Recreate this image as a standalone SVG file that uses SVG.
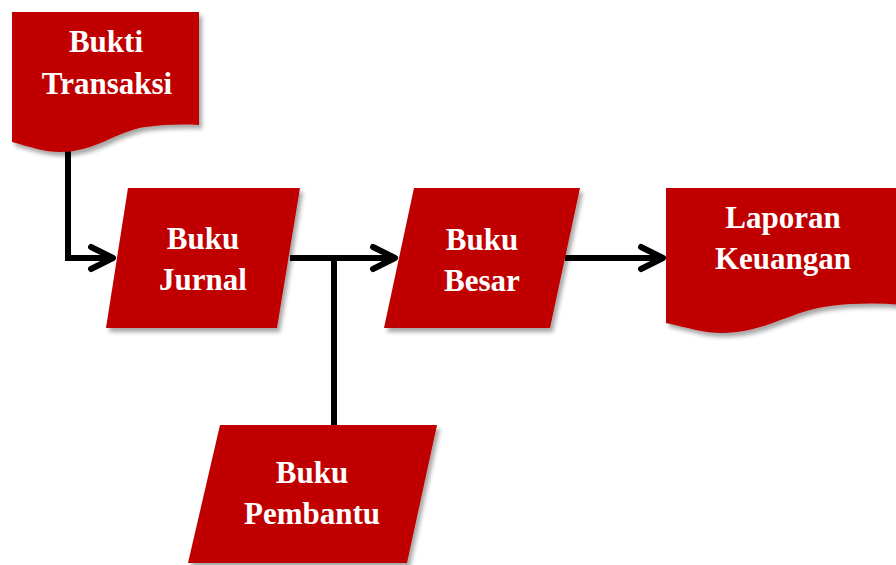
<svg xmlns="http://www.w3.org/2000/svg" width="896" height="565" viewBox="0 0 896 565">
  <style>
    .shape { fill: #C00000; filter: url(#shadow); }
    .label { font-family: "Liberation Serif", "Times New Roman", serif; font-weight: bold; font-size: 31px; fill: #FFFFFF; text-anchor: middle; }
    .conn { fill: none; stroke: #000000; stroke-width: 6; stroke-linejoin: miter; }
  </style>
  <defs>
    <filter id="shadow" x="-10%" y="-10%" width="130%" height="130%">
      <feDropShadow dx="3" dy="4" stdDeviation="2" flood-color="#000000" flood-opacity="0.35"/>
    </filter>
    <marker id="arrow" markerUnits="userSpaceOnUse" markerWidth="34" markerHeight="34" viewBox="0 0 34 34" refX="28" refY="17" orient="auto">
      <path d="M6,6 L28,17 L6,28" fill="none" stroke="#000000" stroke-width="6" stroke-linecap="round" stroke-linejoin="round"/>
    </marker>
  </defs>
  <rect width="896" height="565" fill="#FFFFFF"/>

  <g id="connectors">
    <path class="conn" d="M68,150 V258 H113" marker-end="url(#arrow)"/>
    <path class="conn" d="M290,258 H395" marker-end="url(#arrow)"/>
    <path class="conn" d="M334,258 V426"/>
    <path class="conn" d="M565,258 H663" marker-end="url(#arrow)"/>
  </g>

  <g id="bukti-transaksi">
    <path class="shape" d="M12,12 H199 V125 C185,124 165,124 145,127 C115,132 95,152 60,152 C45,152 30,147 12,142 Z"/>
    <text class="label" x="106" y="52">Bukti</text>
    <text class="label" x="107" y="94">Transaksi</text>
  </g>

  <g id="buku-jurnal">
    <path class="shape" d="M128,188 H300 L277,328 H106 Z"/>
    <text class="label" x="203" y="249">Buku</text>
    <text class="label" x="203" y="290">Jurnal</text>
  </g>

  <g id="buku-besar">
    <path class="shape" d="M414,188 H580 L550,328 H384 Z"/>
    <text class="label" x="482" y="250">Buku</text>
    <text class="label" x="482" y="291">Besar</text>
  </g>

  <g id="laporan-keuangan">
    <path class="shape" d="M666,188 H905 V305 C880,303 855,303 830,306 C790,311 765,333 722,333 C705,333 688,328 666,323 Z"/>
    <text class="label" x="783" y="228">Laporan</text>
    <text class="label" x="783" y="269">Keuangan</text>
  </g>

  <g id="buku-pembantu">
    <path class="shape" d="M220,425 H437 L407,563 H188 Z"/>
    <text class="label" x="312" y="483">Buku</text>
    <text class="label" x="312" y="524">Pembantu</text>
  </g>
</svg>
